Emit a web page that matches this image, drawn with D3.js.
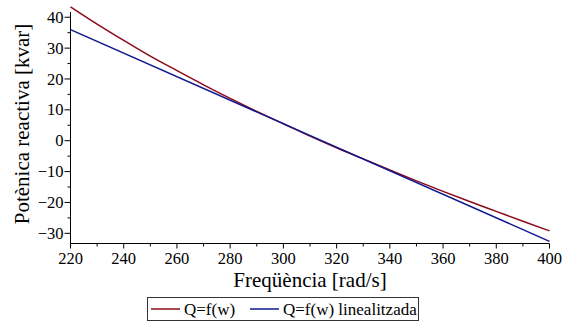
<!DOCTYPE html>
<html>
<head>
<meta charset="utf-8">
<script src="https://cdn.jsdelivr.net/npm/d3@7"></script>
<style>
  body { margin: 0; background: #fff; }
</style>
</head>
<body>
<div id="chart"></div>
<script>
// frequency samples [rad/s]
const freq = [220, 230, 240, 250, 260, 270, 280, 290, 300, 310, 320, 330, 340, 350, 360, 370, 380, 390, 400];
// Q=f(w) [kvar]
const qReal = [43.4, 37.8, 32.5, 27.4, 22.7, 18.1, 13.7, 9.5, 5.5, 1.5, -2.3, -5.9, -9.5, -13.0, -16.4, -19.7, -22.9, -26.1, -29.2];
// Q=f(w) linealitzada [kvar]
const linFreq = [220, 400];
const qLin = [36.0, -32.6];

const xTicks = [220, 240, 260, 280, 300, 320, 340, 360, 380, 400];
const yTicks = [-30, -20, -10, 0, 10, 20, 30, 40];
const seriesNames = ['Q=f(w)', 'Q=f(w) linealitzada'];
const colors = ['#8c0a1a', '#101890'];

const width = 562, height = 323;
const font = '"Liberation Serif", "Times New Roman", Times, Tinos, serif';

const svg = d3.select('#chart').append('svg')
  .attr('width', width)
  .attr('height', height)
  .attr('font-family', font);

const x = d3.scaleLinear()
  .domain([220, 400])
  .range([70.5, 549.5]);

const y = d3.scaleLinear()
  .domain([-33.3, 41.7])
  .range([243.5, 12]);

// x axis
const xAxis = svg.append('g')
  .attr('transform', 'translate(0,' + 243.5 + ')');
xAxis.append('line')
  .attr('x1', x(220)).attr('x2', x(400))
  .attr('stroke', '#000');
xAxis.selectAll('.minor').data(d3.range(230, 400, 20))
  .enter().append('line')
  .attr('x1', d => x(d)).attr('x2', d => x(d))
  .attr('y1', 0).attr('y2', 3)
  .attr('stroke', '#000');
xAxis.selectAll('.major').data(xTicks)
  .enter().append('line')
  .attr('x1', d => x(d)).attr('x2', d => x(d))
  .attr('y1', 0).attr('y2', 5)
  .attr('stroke', '#000');
xAxis.selectAll('.lbl').data(xTicks)
  .enter().append('text')
  .attr('x', d => x(d))
  .attr('y', 20)
  .attr('text-anchor', 'middle')
  .attr('font-size', 16.5)
  .text(d => d);

// y axis
const yAxis = svg.append('g')
  .attr('transform', 'translate(' + 70.5 + ',0)');
yAxis.append('line')
  .attr('y1', y(41.7)).attr('y2', y(-33.3))
  .attr('stroke', '#000');
yAxis.selectAll('.minor').data(d3.range(-25, 41, 10))
  .enter().append('line')
  .attr('y1', d => y(d)).attr('y2', d => y(d))
  .attr('x1', 0).attr('x2', -3)
  .attr('stroke', '#000');
yAxis.selectAll('.major').data(yTicks)
  .enter().append('line')
  .attr('y1', d => y(d)).attr('y2', d => y(d))
  .attr('x1', 0).attr('x2', -6)
  .attr('stroke', '#000');
yAxis.selectAll('.lbl').data(yTicks)
  .enter().append('text')
  .attr('x', -7)
  .attr('y', d => y(d))
  .attr('dy', '0.34em')
  .attr('text-anchor', 'end')
  .attr('font-size', 16.5)
  .text(d => d3.format('')(d));

// axis titles
svg.append('text')
  .attr('x', 310)
  .attr('y', 287)
  .attr('text-anchor', 'middle')
  .attr('font-size', 21)
  .text('Freqüència [rad/s]');

svg.append('text')
  .attr('transform', 'translate(29,124) rotate(-90)')
  .attr('text-anchor', 'middle')
  .attr('font-size', 21)
  .text('Potènica reactiva [kvar]');

// curves
const line = d3.line()
  .x(d => x(d[0]))
  .y(d => y(d[1]))
  .curve(d3.curveMonotoneX);

svg.append('path')
  .datum(freq.map((f, i) => [f, qReal[i]]))
  .attr('fill', 'none')
  .attr('stroke', colors[0])
  .attr('stroke-width', 1.5)
  .attr('d', line);

svg.append('path')
  .datum(linFreq.map((f, i) => [f, qLin[i]]))
  .attr('fill', 'none')
  .attr('stroke', colors[1])
  .attr('stroke-width', 1.5)
  .attr('d', line);

// legend
const legend = svg.append('g');
legend.append('rect')
  .attr('x', 147.5).attr('y', 297.5)
  .attr('width', 271).attr('height', 23)
  .attr('fill', '#fff')
  .attr('stroke', '#333');

const legendItems = [
  {name: seriesNames[0], color: colors[0], x0: 151},
  {name: seriesNames[1], color: colors[1], x0: 250}
];
legendItems.forEach(item => {
  legend.append('line')
    .attr('x1', item.x0).attr('x2', item.x0 + 29)
    .attr('y1', 309).attr('y2', 309)
    .attr('stroke', item.color)
    .attr('stroke-width', 1.5);
  legend.append('text')
    .attr('x', item.x0 + 33)
    .attr('y', 315)
    .attr('font-size', 17)
    .text(item.name);
});
</script>
</body>
</html>
